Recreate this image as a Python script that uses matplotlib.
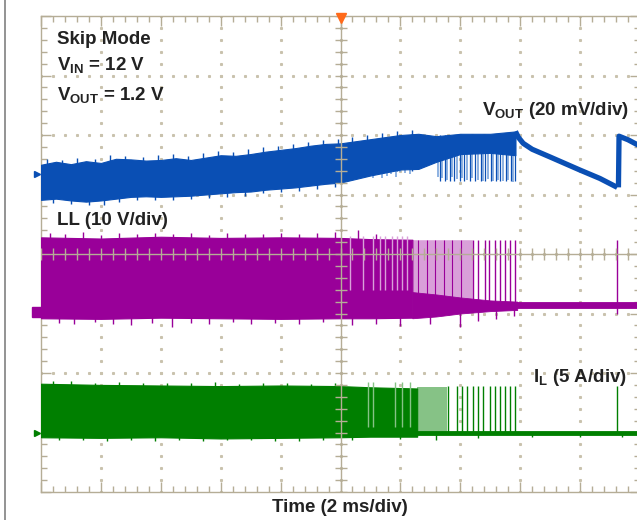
import matplotlib
matplotlib.use('Agg')
import matplotlib.pyplot as plt
from matplotlib.lines import Line2D
import numpy as np

plt.rcParams['font.family'] = ['Liberation Sans', 'DejaVu Sans']
plt.rcParams['mathtext.fontset'] = 'custom'
plt.rcParams['mathtext.rm'] = 'Liberation Sans:bold'
plt.rcParams['mathtext.bf'] = 'Liberation Sans:bold'
plt.rcParams['mathtext.it'] = 'Liberation Sans:bold'

# ---- data, in scope divisions (x: 0..10, y: 0..8) ----
# VOUT dense band
vout_t = [0, 0.25, 0.5, 0.75, 1.0, 1.25, 1.5, 1.75, 2.0, 2.25, 2.5, 2.75, 3.0, 3.25,
          3.5, 3.75, 4.0, 4.25, 4.5, 4.75, 5.0, 5.5, 6.0, 6.3, 6.6, 7.0, 7.5, 7.92]
vout_top = [5.50, 5.55, 5.51, 5.56, 5.53, 5.60, 5.59, 5.57, 5.58, 5.61, 5.58, 5.62, 5.66, 5.65,
            5.68, 5.72, 5.75, 5.78, 5.82, 5.85, 5.86, 5.93, 6.00, 6.02, 5.98, 6.02, 6.02, 6.06]
vout_bot = [4.91, 4.93, 4.90, 4.88, 4.90, 4.93, 4.96, 4.97, 4.96, 4.97, 4.98, 5.00, 5.02, 5.04,
            5.05, 5.08, 5.10, 5.12, 5.15, 5.18, 5.20, 5.32, 5.42, 5.43, 5.55, 5.68, 5.70, 5.66]
# noise spikes on the band edges
vout_up_t = [0.1, 0.35, 0.6, 0.9, 1.15, 1.4, 1.7, 1.95, 2.2, 2.45, 2.7, 2.95, 3.2, 3.45,
             3.7, 3.95, 4.2, 4.45, 4.7, 4.95, 5.2, 5.45, 5.7, 5.95, 6.2]
vout_up_v = [5.60, 5.58, 5.62, 5.59, 5.66, 5.64, 5.63, 5.66, 5.68, 5.65, 5.70, 5.73, 5.72, 5.76,
             5.79, 5.82, 5.85, 5.88, 5.92, 5.93, 5.96, 6.00, 6.04, 6.07, 6.08]
vout_dn_t = [0.2, 0.5, 0.8, 1.05, 1.3, 1.6, 1.9, 2.2, 2.5, 2.8, 3.1, 3.4, 3.7, 4.0, 4.3, 4.6, 4.9]
vout_dn_v = [4.86, 4.84, 4.82, 4.83, 4.87, 4.90, 4.91, 4.91, 4.92, 4.94, 4.96, 4.98, 5.02,
             5.04, 5.06, 5.09, 5.13]
# light-blue skip spikes hanging below the band
vout_spk_t = [5.45, 5.55, 5.62, 5.70, 5.78, 5.85, 5.92, 6.00, 6.08, 6.16, 6.62, 6.70, 6.78, 6.86,
              6.95, 7.03, 7.12, 7.20, 7.30, 7.38, 7.47, 7.55, 7.63, 7.72, 7.80, 7.88]
vout_spk_b = [5.30, 5.28, 5.33, 5.27, 5.31, 5.35, 5.30, 5.38, 5.36, 5.34, 5.30, 5.27, 5.25, 5.30,
              5.26, 5.28, 5.24, 5.27, 5.25, 5.22, 5.26, 5.23, 5.25, 5.22, 5.24, 5.21]
vout_comb_t = [6.66, 6.74, 6.82, 6.90, 6.99, 7.07, 7.16, 7.25, 7.34, 7.42, 7.51, 7.59, 7.67,
               7.76, 7.84, 7.91]
# VOUT decay after switching stops, then the next burst
vout_dec_t = [7.92, 7.97, 8.05, 8.2, 8.5, 9.0, 9.33, 9.62]
vout_dec_v = [6.06, 5.96, 5.86, 5.76, 5.63, 5.41, 5.27, 5.12]
vout_nxt_t = [9.64, 9.65, 9.8, 9.95, 10.0]
vout_nxt_v = [5.12, 5.98, 5.92, 5.84, 5.82]

# LL switch node
ll_t = [0, 1, 2, 3, 4, 5, 5.5, 6.2]
ll_top = [4.28, 4.26, 4.29, 4.27, 4.28, 4.27, 4.25, 4.24]
ll_bot = [2.92, 2.91, 2.93, 2.92, 2.91, 2.92, 2.92, 2.93]
ll_up_t = [0.15, 0.4, 0.7, 1.0, 1.3, 1.6, 1.9, 2.2, 2.5, 2.8, 3.1, 3.4, 3.7, 4.0, 4.3, 4.6,
           4.9, 5.3, 5.6]
ll_up_v = [4.36, 4.33, 4.37, 4.32, 4.35, 4.34, 4.36, 4.33, 4.35, 4.32, 4.36, 4.34, 4.33, 4.36,
           4.33, 4.35, 4.37, 4.40, 4.33]
ll_dn_t = [0.3, 0.55, 0.9, 1.2, 1.5, 1.85, 2.19, 2.5, 2.8, 3.2, 3.5, 3.9, 4.3, 4.7, 5.2, 5.6,
           6.0, 6.5, 7.0, 7.3, 7.6, 7.9, 9.62]
ll_dn_v = [2.84, 2.82, 2.85, 2.83, 2.80, 2.84, 2.77, 2.84, 2.83, 2.85, 2.82, 2.84, 2.83, 2.85,
           2.80, 2.82, 2.79, 2.82, 2.78, 2.88, 2.90, 2.95, 3.00]
ll_gap_t = [5.16, 5.38, 5.54, 5.66, 5.74, 5.86, 5.94, 6.03, 6.11]
ll_low_t = [6.2, 6.6, 7.0, 7.5, 7.95]
ll_low_top = [3.36, 3.32, 3.27, 3.22, 3.20]
ll_low_bot = [2.92, 2.95, 3.00, 3.04, 3.06]
ll_mid_t = [6.30, 6.45, 6.58, 6.72, 6.86, 7.02]
ll_pulse_t = [7.21, 7.30, 7.41, 7.48, 7.58, 7.66, 7.75, 7.83, 7.91, 9.62]

# IL inductor current
il_t = [0, 1, 2, 3, 4, 5, 5.5, 6.28]
il_top = [1.82, 1.80, 1.79, 1.78, 1.79, 1.78, 1.76, 1.74]
il_bot = [0.92, 0.91, 0.92, 0.90, 0.91, 0.92, 0.93, 0.93]
il_up_t = [0.2, 0.5, 0.9, 1.3, 1.7, 2.1, 2.5, 2.9, 3.3, 3.7, 4.1, 4.5, 4.9]
il_up_v = [1.87, 1.86, 1.84, 1.85, 1.83, 1.84, 1.83, 1.85, 1.82, 1.84, 1.83, 1.82, 1.84]
il_dn_t = [0.3, 0.7, 1.1, 1.5, 1.9, 2.3, 2.7, 3.1, 3.5, 3.9, 4.3, 4.7, 5.2, 6.0, 6.6, 7.3,
           8.2, 9.0, 9.7]
il_dn_v = [0.87, 0.88, 0.86, 0.87, 0.86, 0.88, 0.86, 0.87, 0.88, 0.85, 0.86, 0.87, 0.88, 0.89,
           0.88, 0.90, 0.92, 0.93, 0.92]
il_gap_t = [5.46, 5.54, 5.91, 6.03, 6.16]
il_pulse_t = [6.79, 6.94, 7.03, 7.11, 7.21, 7.30, 7.38, 7.50, 7.58, 7.66, 7.75, 7.83, 7.91, 9.62]

blue = '#0a4fb4'
blue_l = '#7aa4dc'
purple = '#990099'
purple_l = '#d9a0d9'
green = '#007f00'
green_l = '#86c286'
grid_c = '#b5ad96'
text_c = '#222222'

fig = plt.figure(figsize=(6.37, 5.20), dpi=100)
ax = fig.add_axes([41 / 637, 28 / 520, 599 / 637, 476 / 520])
ax.set_xlim(0, 10)
ax.set_ylim(0, 8)

# graticule
for s in ax.spines.values():
    s.set_color(grid_c)
    s.set_linewidth(1.0)
ax.set_xticks(range(0, 11))
ax.set_yticks(range(0, 9))
ax.set_xticks(np.arange(0, 10.01, 0.2), minor=True)
ax.set_yticks(np.arange(0, 8.01, 0.2), minor=True)
ax.tick_params(which='both', direction='in', colors=grid_c, top=True, right=True,
               labelbottom=False, labelleft=False)
ax.tick_params(which='major', length=7, width=1)
ax.tick_params(which='minor', length=4, width=1)
for gx in range(1, 10):
    ax.plot([gx] * 41, np.arange(0, 8.01, 0.2), ls='none', marker='s', ms=1.2,
            color='#c9c2ad', zorder=1)
for gy in range(1, 8):
    ax.plot(np.arange(0, 10.01, 0.2), [gy] * 51, ls='none', marker='s', ms=1.2,
            color='#c9c2ad', zorder=1)

# VOUT
ax.fill_between(vout_t, vout_bot, vout_top, color=blue, lw=0.8, zorder=3)
ax.vlines(vout_up_t, [5.4] * len(vout_up_t), vout_up_v, color=blue, lw=1.0, zorder=3)
ax.vlines(vout_dn_t, vout_dn_v, [5.2] * len(vout_dn_t), color=blue, lw=1.0, zorder=3)
ax.vlines(vout_spk_t, vout_spk_b, [5.9] * len(vout_spk_t), color=blue_l, lw=1.2, zorder=2.5)
ax.vlines(vout_comb_t, [5.22] * len(vout_comb_t), [6.0] * len(vout_comb_t), color=blue,
          lw=0.9, zorder=3.5)
ax.plot(vout_dec_t, vout_dec_v, color=blue, lw=3.8, zorder=3, solid_capstyle='butt')
ax.plot(vout_nxt_t, vout_nxt_v, color=blue, lw=3.8, zorder=3, solid_capstyle='butt')

# LL
ax.fill_between(ll_t, ll_bot, ll_top, color=purple, lw=0.8, zorder=3)
ax.vlines(ll_up_t, [4.0] * len(ll_up_t), ll_up_v, color=purple, lw=1.0, zorder=3)
ax.vlines(ll_dn_t, ll_dn_v, [3.1] * len(ll_dn_t), color=purple, lw=1.0, zorder=3)
ax.vlines(ll_gap_t, [3.4] * len(ll_gap_t), [4.3] * len(ll_gap_t), color=purple_l, lw=1.0, zorder=3.2)
ax.fill_between([6.2, 7.2], [3.3, 3.25], [4.24, 4.24], color=purple_l, lw=0, zorder=2.8)
ax.vlines(ll_mid_t, [3.2] * len(ll_mid_t), [4.24] * len(ll_mid_t), color=purple, lw=0.8, zorder=2.9)
ax.fill_between(ll_low_t, ll_low_bot, ll_low_top, color=purple, lw=0.6, zorder=3)
ax.fill_between([7.95, 10], [3.09, 3.09], [3.19, 3.19], color=purple, lw=0.6, zorder=3)
ax.vlines(ll_pulse_t, [3.14] * len(ll_pulse_t), [4.24] * len(ll_pulse_t), color=purple, lw=1.0, zorder=3)

# IL
ax.fill_between(il_t, il_bot, il_top, color=green, lw=0.8, zorder=3)
ax.vlines(il_up_t, [1.6] * len(il_up_t), il_up_v, color=green, lw=1.0, zorder=3)
ax.vlines(il_dn_t, il_dn_v, [1.0] * len(il_dn_t), color=green, lw=1.0, zorder=3)
ax.vlines(il_gap_t, [1.1] * len(il_gap_t), [1.85] * len(il_gap_t), color=green_l, lw=1.0, zorder=3.2)
ax.fill_between([6.28, 6.78], [1.0, 1.0], [1.76, 1.76], color=green_l, lw=0, zorder=2.8)
ax.fill_between([6.28, 10], [0.95, 0.95], [1.03, 1.03], color=green, lw=0.6, zorder=3)
ax.vlines(il_pulse_t, [0.99] * len(il_pulse_t), [1.78] * len(il_pulse_t), color=green, lw=1.0, zorder=3)

# center cross with ticks
ax.axvline(5, color=grid_c, lw=1, zorder=4)
ax.axhline(4, color=grid_c, lw=1, zorder=4)
ax.plot([5] * 41, np.arange(0, 8.01, 0.2), ls='none', marker='_', ms=8, mew=1, color=grid_c, zorder=4)
ax.plot(np.arange(0, 10.01, 0.2), [4] * 51, ls='none', marker='|', ms=8, mew=1, color=grid_c, zorder=4)

# trigger and channel markers
ax.plot([5], [7.97], marker='v', ms=7, color='#ff6a1a', clip_on=False, zorder=6)
ax.plot([-0.06], [5.34], marker='>', ms=5, color=blue, clip_on=False, zorder=6)
ax.plot([-0.06], [3.03], marker='s', ms=7, color=purple, clip_on=False, zorder=6)
ax.plot([-0.06], [0.99], marker='>', ms=5, color=green, clip_on=False, zorder=6)

# labels
kw = dict(fontsize=13.5, fontweight='bold', color=text_c, zorder=7)
ax.text(0.27, 7.61, 'Skip Mode', ha='left', va='center', **kw)
ax.text(0.27, 7.18, r'$\mathbf{V_{IN}}$ = 12 V', ha='left', va='center', **kw)
ax.text(0.27, 6.67, r'$\mathbf{V_{OUT}}$ = 1.2 V', ha='left', va='center', **kw)
ax.text(9.82, 6.42, r'$\mathbf{V_{OUT}}$ (20 mV/div)', ha='right', va='center', **kw)
ax.text(0.27, 4.57, 'LL (10 V/div)', ha='left', va='center', **kw)
ax.text(9.78, 1.92, r'$\mathbf{I_{L}}$ (5 A/div)', ha='right', va='center', **kw)
fig.text(340 / 637, 13 / 520, 'Time (2 ms/div)', ha='center', va='center',
         fontsize=13.5, fontweight='bold', color=text_c)

fig.add_artist(Line2D([5 / 637, 5 / 637], [0, 1], color='#808080', lw=1.2))

fig.savefig('out.png', dpi=100)
